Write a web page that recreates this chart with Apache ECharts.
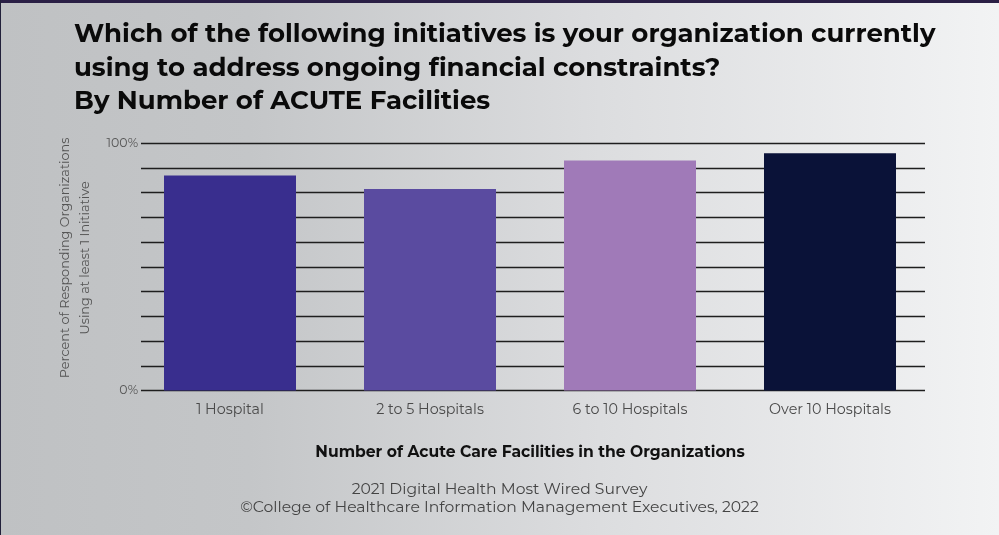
<!DOCTYPE html>
<html>
<head>
<meta charset="utf-8">
<script src="https://cdn.jsdelivr.net/npm/echarts@6/dist/echarts.min.js"></script>
<style>
html,body{margin:0;padding:0;}
#chart{width:999px;height:535px;}
</style>
</head>
<body>
<div id="chart"></div>
<script>
const categories = ['1 Hospital', '2 to 5 Hospitals', '6 to 10 Hospitals', 'Over 10 Hospitals'];
const values = [87, 81.5, 93, 96];
const barColors = ['#392E8E', '#5A4BA0', '#A07AB8', '#0A1238'];
const yTickLabels = {0: '0%', 100: '100%'};

const FONT = 'Montserrat, "DejaVu Sans", sans-serif';
const chart = echarts.init(document.getElementById('chart'));
chart.setOption({
  backgroundColor: {
    type: 'linear', x: 0, y: 0, x2: 1, y2: 0,
    colorStops: [
      {offset: 0, color: '#bfc1c3'},
      {offset: 0.25, color: '#c4c6c8'},
      {offset: 0.6, color: '#dcdddf'},
      {offset: 1, color: '#f2f3f4'}
    ]
  },
  title: {
    text: 'Which of the following initiatives is your organization currently\nusing to address ongoing financial constraints?\nBy Number of ACUTE Facilities',
    left: 69, top: 13,
    textStyle: {fontFamily: FONT, fontWeight: 'bold', fontSize: 26, lineHeight: 33.5, color: '#0a0a0a'}
  },
  graphic: [
    {type: 'rect', shape: {x: 0, y: 0, width: 999, height: 3}, style: {fill: '#2a1f45'}},
    {type: 'rect', shape: {x: 0, y: 0, width: 1, height: 535}, style: {fill: '#22203a'}},
    {type: 'text', left: 'center', top: 480, style: {text: '2021 Digital Health Most Wired Survey\n©College of Healthcare Information Management Executives, 2022', textAlign: 'center', fontFamily: FONT, fontSize: 15.6, lineHeight: 18, fill: '#444'}}
  ],
  grid: [
    {left: 141, right: 74, top: 143.3, bottom: 144.5},
    {left: 130, right: 69, top: 143.3, bottom: 144.5}
  ],
  xAxis: [
    {type: 'value', gridIndex: 0, show: false, min: 0, max: 1},
    {
      type: 'category', gridIndex: 1,
      data: categories,
      axisLine: {show: false},
      axisTick: {show: false},
      axisLabel: {color: '#4a4a4a', fontSize: 14.3, margin: 12, fontFamily: FONT},
      name: 'Number of Acute Care Facilities in the Organizations',
      nameLocation: 'middle', nameGap: 54,
      nameTextStyle: {fontWeight: 'bold', fontSize: 15.6, color: '#111', fontFamily: FONT}
    }
  ],
  yAxis: [
    {
      type: 'value', gridIndex: 0, min: 0, max: 100, interval: 10,
      axisLine: {show: false}, axisTick: {show: false},
      splitLine: {lineStyle: {color: '#1e1e1e', width: 1.3}},
      axisLabel: {color: '#555', fontSize: 12.5, margin: 3, fontFamily: FONT,
        formatter: v => yTickLabels[v] || ''},
      name: 'Percent of Responding Organizations\nUsing at least 1 Initiative',
      nameLocation: 'middle', nameGap: 46, nameRotate: 90,
      nameTextStyle: {color: '#555', fontSize: 12.8, lineHeight: 20, fontFamily: FONT, padding: [0, 0, 0, 18]}
    },
    {type: 'value', gridIndex: 1, min: 0, max: 100, show: false}
  ],
  series: [{
    type: 'bar', xAxisIndex: 1, yAxisIndex: 1,
    data: values.map((v, i) => ({value: v, itemStyle: {color: barColors[i]}})),
    barWidth: 132
  }]
});
</script>
</body>
</html>
